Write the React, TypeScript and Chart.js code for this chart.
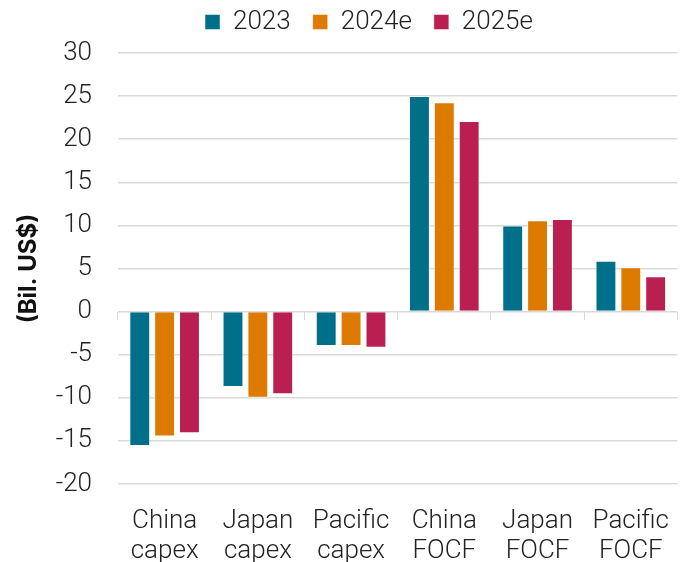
import React, { useEffect, useRef } from "react";
import { Chart, registerables } from "chart.js";

Chart.register(...registerables);

const categories: string[][] = [
  ["China", "capex"],
  ["Japan", "capex"],
  ["Pacific", "capex"],
  ["China", "FOCF"],
  ["Japan", "FOCF"],
  ["Pacific", "FOCF"],
];
const series2023 = [-15.6, -8.75, -4.0, 25.0, 10.0, 5.9];
const series2024e = [-14.5, -10.0, -4.0, 24.3, 10.6, 5.15];
const series2025e = [-14.1, -9.6, -4.2, 22.1, 10.75, 4.1];
const seriesNames = ["2023", "2024e", "2025e"];
const colors = ["#006f89", "#dd7a00", "#b91f50"];
const yMin = -20;
const yMax = 30;
const yStep = 5;
const yTitle = "(Bil. US$)";

const FONT = "Roboto, 'Noto Sans', sans-serif";
const LEGEND_SHIFT = 20;

const legendTweak = {
  id: "legendTweak",
  afterInit(chart: any) {
    const lg = chart.legend;
    if (!lg) return;
    const orig = lg.fit.bind(lg);
    lg.fit = () => {
      orig();
      lg.height += 8;
    };
  },
  afterLayout(chart: any) {
    const lg = chart.legend;
    if (!lg) return;
    lg.left += LEGEND_SHIFT;
    lg.right += LEGEND_SHIFT;
  },
};

export default function App() {
  const ref = useRef<HTMLCanvasElement | null>(null);
  useEffect(() => {
    if (!ref.current) return;
    const values = [series2023, series2024e, series2025e];
    const chart = new Chart(ref.current, {
      type: "bar",
      data: {
        labels: categories,
        datasets: values.map((v, i) => ({
          label: seriesNames[i],
          data: v,
          backgroundColor: colors[i],
          borderColor: "rgba(255,255,255,0.45)",
          borderWidth: 1,
          barPercentage: 0.84,
          categoryPercentage: 0.8,
          xAxisID: "x",
        })),
      },
      plugins: [legendTweak],
      options: {
        animation: false,
        responsive: false,
        maintainAspectRatio: false,
        layout: { padding: { left: 14, right: 0, top: -13, bottom: 0 } },
        plugins: {
          legend: {
            position: "top",
            labels: {
              boxWidth: 15,
              boxHeight: 15,
              padding: 22,
              color: "#222",
              font: { family: FONT, size: 26, weight: 300 },
            },
          },
          tooltip: { enabled: false },
        },
        scales: {
          x: {
            position: "bottom",
            grid: { display: false },
            border: { display: false },
            afterFit: (s: any) => {
              s.height = 78;
            },
            ticks: {
              color: "#222",
              font: { family: FONT, size: 26, weight: 300, lineHeight: 1.15 },
              maxRotation: 0,
              padding: 15,
            },
          },
          x2: {
            type: "category",
            labels: categories.map((c) => c.join(" ")),
            position: { y: 0 },
            offset: true,
            afterFit: (s: any) => {
              s.height = 0;
            },
            grid: {
              display: true,
              drawOnChartArea: false,
              drawTicks: true,
              tickLength: 8,
              color: "#d9d9d9",
              offset: true,
            },
            border: { display: false },
            ticks: { display: false },
          },
          y: {
            min: yMin,
            max: yMax,
            afterFit: (s: any) => {
              s.width = 104;
            },
            ticks: {
              stepSize: yStep,
              color: "#222",
              font: { family: FONT, size: 26, weight: 300 },
              padding: 26,
            },
            grid: { color: "#d9d9d9", drawTicks: false, lineWidth: 1.5 },
            border: { display: false },
            title: {
              display: true,
              text: yTitle,
              color: "#111",
              font: { family: "Inter, 'Open Sans', sans-serif", size: 24, weight: "bold" },
              padding: { top: 0, bottom: 0 },
            },
          },
        },
      },
    } as any);
    return () => chart.destroy();
  }, []);
  return (
    <div style={{ position: "fixed", left: 0, top: 0, width: 684, height: 562, background: "#fff" }}>
      <canvas ref={ref} width={684} height={562} style={{ width: 684, height: 562 }} />
    </div>
  );
}
